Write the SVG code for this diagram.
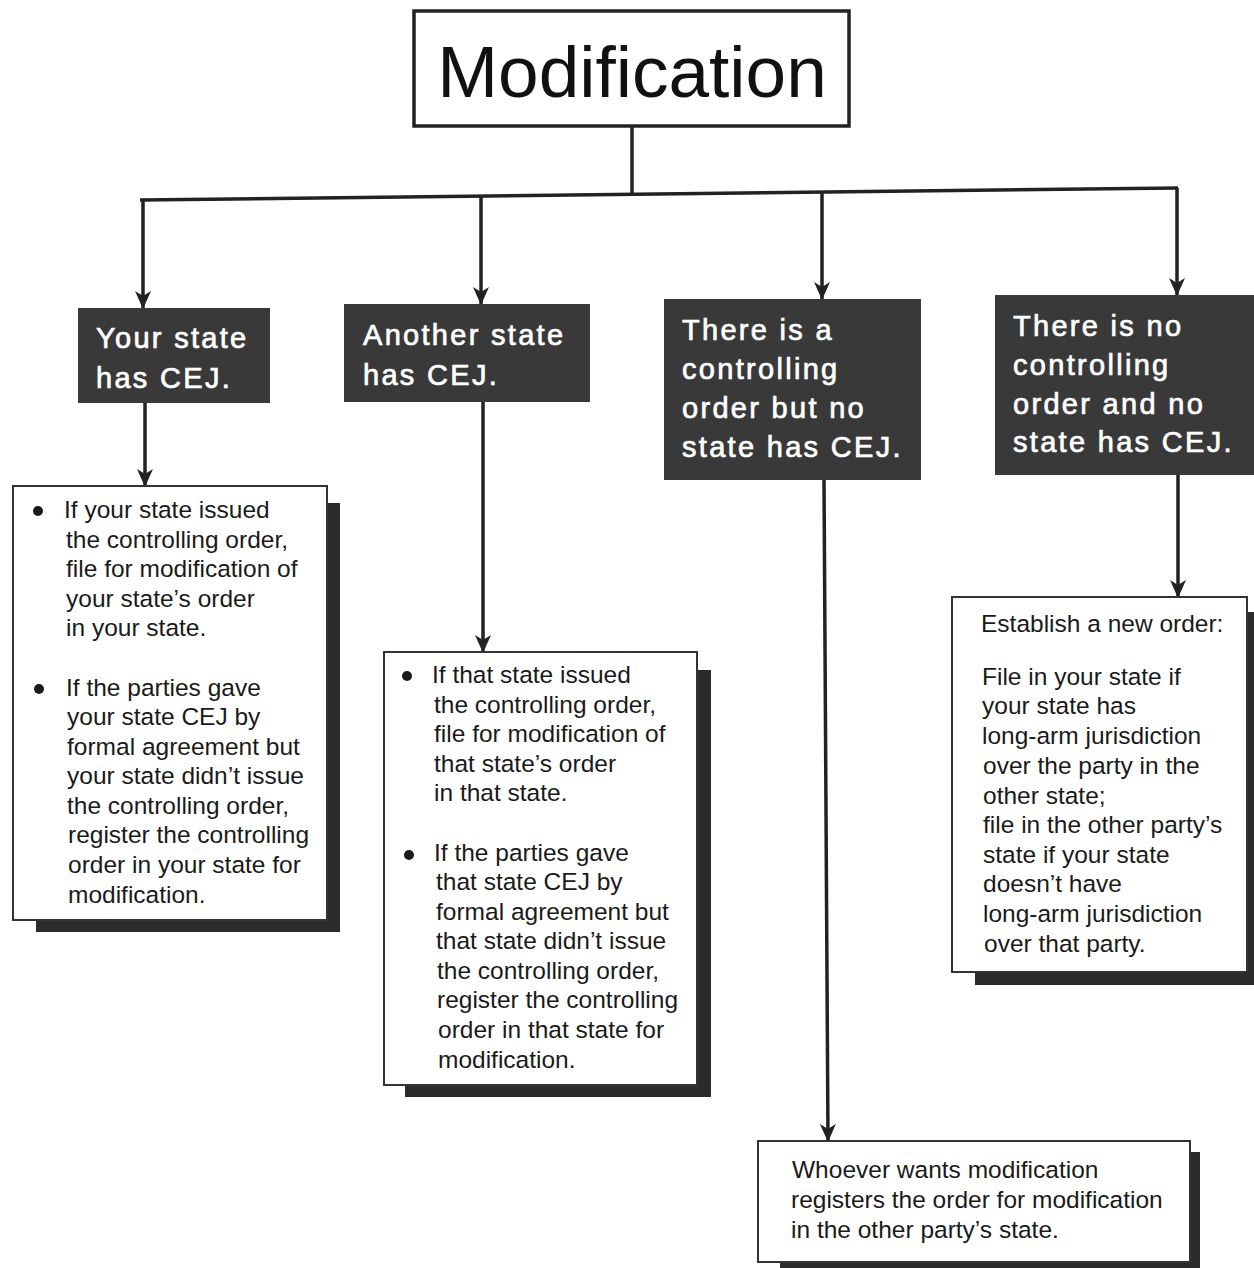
<svg xmlns="http://www.w3.org/2000/svg" width="1254" height="1268" viewBox="0 0 1254 1268">
<defs>
<style>
.title{font-family:"Liberation Sans",Arial,sans-serif;font-size:73px;fill:#111}
.hdr{font-family:"Liberation Sans",Arial,sans-serif;font-size:29px;fill:#fff;stroke:#fff;stroke-width:0.7;letter-spacing:2.3px}
.body{font-family:"Liberation Sans",Arial,sans-serif;font-size:24.5px;fill:#1a1a1a}
.dark{fill:#393939}
.card{fill:#fff;stroke:#333;stroke-width:2}
.shadow{fill:#2b2b2b}
.conn{stroke:#222;stroke-width:3.5;fill:none}
.bullet{fill:#1a1a1a}
</style>
<marker id="arr" viewBox="0 0 18 16" refX="17" refY="8" markerWidth="18" markerHeight="16" markerUnits="userSpaceOnUse" orient="auto">
<path d="M0,0 L18,8 L0,16 L5,8 z" fill="#222"/>
</marker>
</defs>
<rect width="1254" height="1268" fill="#fff"/>

<g id="connectors">
<line class="conn" x1="632" y1="126" x2="632" y2="195"/>
<line class="conn" x1="140" y1="200" x2="1178" y2="188"/>
<line class="conn" x1="143" y1="200" x2="143" y2="308" marker-end="url(#arr)"/>
<line class="conn" x1="481" y1="196" x2="481" y2="304" marker-end="url(#arr)"/>
<line class="conn" x1="822" y1="192" x2="822" y2="299" marker-end="url(#arr)"/>
<line class="conn" x1="1177" y1="188" x2="1177" y2="295" marker-end="url(#arr)"/>
<line class="conn" x1="145" y1="403" x2="145" y2="486" marker-end="url(#arr)"/>
<line class="conn" x1="483" y1="402" x2="483" y2="652" marker-end="url(#arr)"/>
<line class="conn" x1="824" y1="480" x2="828" y2="1141" marker-end="url(#arr)"/>
<line class="conn" x1="1178" y1="475" x2="1178" y2="597" marker-end="url(#arr)"/>
</g>

<g id="title">
<rect x="414" y="11" width="435" height="115" fill="#fff" stroke="#222" stroke-width="3.5"/>
<text class="title" x="632" y="97" text-anchor="middle">Modification</text>
</g>

<g id="your-state">
<rect class="dark" x="78" y="308" width="192" height="95"/>
<text class="hdr" x="96" y="348">Your state</text>
<text class="hdr" x="96" y="388">has CEJ.</text>
</g>

<g id="another-state">
<rect class="dark" x="344" y="304" width="246" height="98"/>
<text class="hdr" x="363" y="345">Another state</text>
<text class="hdr" x="363" y="385">has CEJ.</text>
</g>

<g id="controlling-no-cej">
<rect class="dark" x="664" y="299" width="257" height="181"/>
<text class="hdr" x="682" y="340">There is a</text>
<text class="hdr" x="682" y="379">controlling</text>
<text class="hdr" x="682" y="418">order but no</text>
<text class="hdr" x="682" y="457">state has CEJ.</text>
</g>

<g id="no-controlling">
<rect class="dark" x="995" y="295" width="259" height="180"/>
<text class="hdr" x="1013" y="336">There is no</text>
<text class="hdr" x="1013" y="375">controlling</text>
<text class="hdr" x="1013" y="414">order and no</text>
<text class="hdr" x="1013" y="452">state has CEJ.</text>
</g>

<g id="your-state-detail">
<rect class="shadow" x="36" y="503" width="304" height="429"/>
<rect class="card" x="13" y="486" width="314" height="434"/>
<circle class="bullet" cx="38" cy="511" r="5"/>
<text class="body" x="64" y="518">If your state issued</text>
<text class="body" x="66" y="548">the controlling order,</text>
<text class="body" x="66" y="577">file for modification of</text>
<text class="body" x="66" y="607">your state’s order</text>
<text class="body" x="66" y="636">in your state.</text>
<circle class="bullet" cx="39" cy="689" r="5"/>
<text class="body" x="66" y="696">If the parties gave</text>
<text class="body" x="67" y="725">your state CEJ by</text>
<text class="body" x="67" y="755">formal agreement but</text>
<text class="body" x="67" y="784">your state didn’t issue</text>
<text class="body" x="67" y="814">the controlling order,</text>
<text class="body" x="68" y="843">register the controlling</text>
<text class="body" x="68" y="873">order in your state for</text>
<text class="body" x="68" y="903">modification.</text>
</g>

<g id="another-state-detail">
<rect class="shadow" x="405" y="670" width="306" height="427"/>
<rect class="card" x="384" y="652" width="313" height="433"/>
<circle class="bullet" cx="407" cy="676" r="5"/>
<text class="body" x="432" y="683">If that state issued</text>
<text class="body" x="434" y="713">the controlling order,</text>
<text class="body" x="434" y="742">file for modification of</text>
<text class="body" x="434" y="772">that state’s order</text>
<text class="body" x="434" y="801">in that state.</text>
<circle class="bullet" cx="409" cy="855" r="5"/>
<text class="body" x="434" y="861">If the parties gave</text>
<text class="body" x="436" y="890">that state CEJ by</text>
<text class="body" x="436" y="920">formal agreement but</text>
<text class="body" x="436" y="949">that state didn’t issue</text>
<text class="body" x="437" y="979">the controlling order,</text>
<text class="body" x="437" y="1008">register the controlling</text>
<text class="body" x="438" y="1038">order in that state for</text>
<text class="body" x="438" y="1068">modification.</text>
</g>

<g id="new-order-detail">
<rect class="shadow" x="975" y="612" width="279" height="373"/>
<rect class="card" x="952" y="597" width="295" height="375"/>
<text class="body" x="981" y="632">Establish a new order:</text>
<text class="body" x="982" y="685">File in your state if</text>
<text class="body" x="982" y="714">your state has</text>
<text class="body" x="982" y="744">long-arm jurisdiction</text>
<text class="body" x="983" y="774">over the party in the</text>
<text class="body" x="983" y="804">other state;</text>
<text class="body" x="983" y="833">file in the other party’s</text>
<text class="body" x="983" y="863">state if your state</text>
<text class="body" x="983" y="892">doesn’t have</text>
<text class="body" x="983" y="922">long-arm jurisdiction</text>
<text class="body" x="984" y="952">over that party.</text>
</g>

<g id="register-detail">
<rect class="shadow" x="780" y="1152" width="420" height="116"/>
<rect class="card" x="758" y="1141" width="432" height="121"/>
<text class="body" x="792" y="1178">Whoever wants modification</text>
<text class="body" x="791" y="1208">registers the order for modification</text>
<text class="body" x="791" y="1238">in the other party’s state.</text>
</g>
</svg>
